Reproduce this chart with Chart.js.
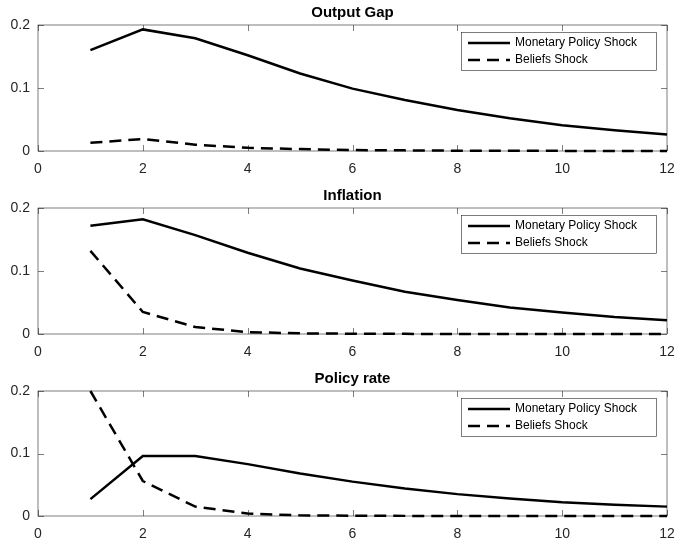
<!DOCTYPE html>
<html>
<head>
<meta charset="utf-8">
<script src="https://cdn.jsdelivr.net/npm/chart.js@4/dist/chart.umd.min.js"></script>
<style>
  body { margin: 0; background: #fff; overflow: hidden; }
  .panel { position: absolute; left: 0; width: 675px; height: 180px; }
</style>
</head>
<body>
<div class="panel" style="top:0px"><canvas id="c1" width="675" height="180"></canvas></div>
<div class="panel" style="top:183px"><canvas id="c2" width="675" height="180"></canvas></div>
<div class="panel" style="top:366px"><canvas id="c3" width="675" height="174"></canvas></div>
<script>
// horizon (periods after shock)
const periods = [1, 2, 3, 4, 5, 6, 7, 8, 9, 10, 11, 12];

// impulse responses
const outputGapMP      = [0.160, 0.193, 0.179, 0.152, 0.123, 0.099, 0.081, 0.065, 0.052, 0.041, 0.033, 0.026];
const outputGapBeliefs = [0.013, 0.019, 0.010, 0.005, 0.003, 0.0015, 0.001, 0.0005, 0.0003, 0.0002, 0.0001, 0.0001];
const inflationMP      = [0.172, 0.182, 0.157, 0.129, 0.104, 0.085, 0.067, 0.054, 0.042, 0.034, 0.027, 0.022];
const inflationBeliefs = [0.132, 0.035, 0.011, 0.003, 0.001, 0.0005, 0.0002, 0.0001, 0, 0, 0, 0];
const policyRateMP      = [0.027, 0.096, 0.096, 0.083, 0.068, 0.055, 0.044, 0.035, 0.028, 0.022, 0.018, 0.015];
const policyRateBeliefs = [0.200, 0.056, 0.015, 0.004, 0.001, 0.0005, 0.0002, 0.0001, 0, 0, 0, 0];

const titles = ['Output Gap', 'Inflation', 'Policy rate'];
const seriesNames = ['Monetary Policy Shock', 'Beliefs Shock'];
const xTicks = [0, 2, 4, 6, 8, 10, 12];
const yTicks = [0, 0.1, 0.2];

const FONT = 'Helvetica, "Liberation Sans", Arial, sans-serif';
const DASH = [12, 7];

// MATLAB style box, inward ticks, title and legend
const matlabAxes = {
  id: 'matlabAxes',
  beforeDatasetsDraw(chart) {
    const ctx = chart.ctx;
    const a = chart.chartArea;
    const xs = chart.scales.x, ys = chart.scales.y;
    ctx.save();
    ctx.strokeStyle = '#262626';
    ctx.lineWidth = 0.6;
    ctx.strokeRect(a.left, a.top, a.right - a.left, a.bottom - a.top);
    ctx.beginPath();
    xTicks.forEach(v => {
      const px = Math.round(xs.getPixelForValue(v)) + 0.5;
      ctx.moveTo(px, a.bottom); ctx.lineTo(px, a.bottom - 6);
      ctx.moveTo(px, a.top); ctx.lineTo(px, a.top + 6);
    });
    yTicks.forEach(v => {
      const py = Math.round(ys.getPixelForValue(v)) + 0.5;
      ctx.moveTo(a.left, py); ctx.lineTo(a.left + 6, py);
      ctx.moveTo(a.right, py); ctx.lineTo(a.right - 6, py);
    });
    ctx.stroke();
    ctx.restore();
  },
  afterDraw(chart, args, opts) {
    const ctx = chart.ctx;
    const a = chart.chartArea;
    ctx.save();
    // title
    ctx.fillStyle = '#000';
    ctx.font = 'bold 15px ' + FONT;
    ctx.textAlign = 'center';
    ctx.textBaseline = 'middle';
    ctx.fillText(opts.title, (a.left + a.right) / 2, 13);

    // legend
    const w = 195, h = 38;
    const bx = a.right - 11 - w, by = a.top + 7;
    ctx.fillStyle = '#fff';
    ctx.fillRect(bx, by, w, h);
    ctx.strokeStyle = '#262626';
    ctx.lineWidth = 0.6;
    ctx.strokeRect(bx + 0.5, by + 0.5, w, h);
    chart.data.datasets.forEach((ds, i) => {
      const ly = by + 11 + i * 17;
      ctx.strokeStyle = '#000';
      ctx.lineWidth = 2.5;
      ctx.setLineDash(ds.borderDash || []);
      ctx.beginPath();
      ctx.moveTo(bx + 7, ly);
      ctx.lineTo(bx + 49, ly);
      ctx.stroke();
      ctx.setLineDash([]);
      ctx.fillStyle = '#000';
      ctx.font = '12px ' + FONT;
      ctx.textAlign = 'left';
      ctx.textBaseline = 'middle';
      ctx.fillText(ds.label, bx + 54, ly);
    });
    ctx.restore();
  }
};

function makeChart(id, title, mp, beliefs, xHeight) {
  return new Chart(document.getElementById(id), {
    type: 'line',
    data: {
      labels: periods,
      datasets: [
        { label: seriesNames[0], data: periods.map((p, i) => ({ x: p, y: mp[i] })),
          borderColor: '#000', borderWidth: 2.5, pointRadius: 0, tension: 0, clip: 6 },
        { label: seriesNames[1], data: periods.map((p, i) => ({ x: p, y: beliefs[i] })),
          borderColor: '#000', borderWidth: 2.5, borderDash: DASH, pointRadius: 0, tension: 0, clip: 6 }
      ]
    },
    options: {
      responsive: false,
      animation: false,
      devicePixelRatio: 1,
      layout: { padding: { left: 0, right: 8, top: 25, bottom: 0 } },
      plugins: {
        legend: { display: false },
        tooltip: { enabled: false },
        matlabAxes: { title: title }
      },
      scales: {
        x: {
          type: 'linear', min: 0, max: 12,
          grid: { display: false }, border: { display: false },
          afterBuildTicks: s => { s.ticks = xTicks.map(v => ({ value: v })); },
          afterFit: s => { s.height = xHeight; s.paddingRight = 0; s.paddingLeft = 0; },
          ticks: { color: '#262626', font: { family: FONT, size: 14 }, padding: 2, maxRotation: 0 }
        },
        y: {
          min: 0, max: 0.2,
          grid: { display: false }, border: { display: false },
          afterBuildTicks: s => { s.ticks = yTicks.map(v => ({ value: v })); },
          afterFit: s => { s.width = 38; s.paddingTop = 0; s.paddingBottom = 0; },
          ticks: { color: '#262626', font: { family: FONT, size: 14 }, padding: 0,
                   callback: v => String(v) }
        }
      }
    },
    plugins: [matlabAxes]
  });
}

makeChart('c1', titles[0], outputGapMP, outputGapBeliefs, 29);
makeChart('c2', titles[1], inflationMP, inflationBeliefs, 29);
makeChart('c3', titles[2], policyRateMP, policyRateBeliefs, 24);
</script>
</body>
</html>
